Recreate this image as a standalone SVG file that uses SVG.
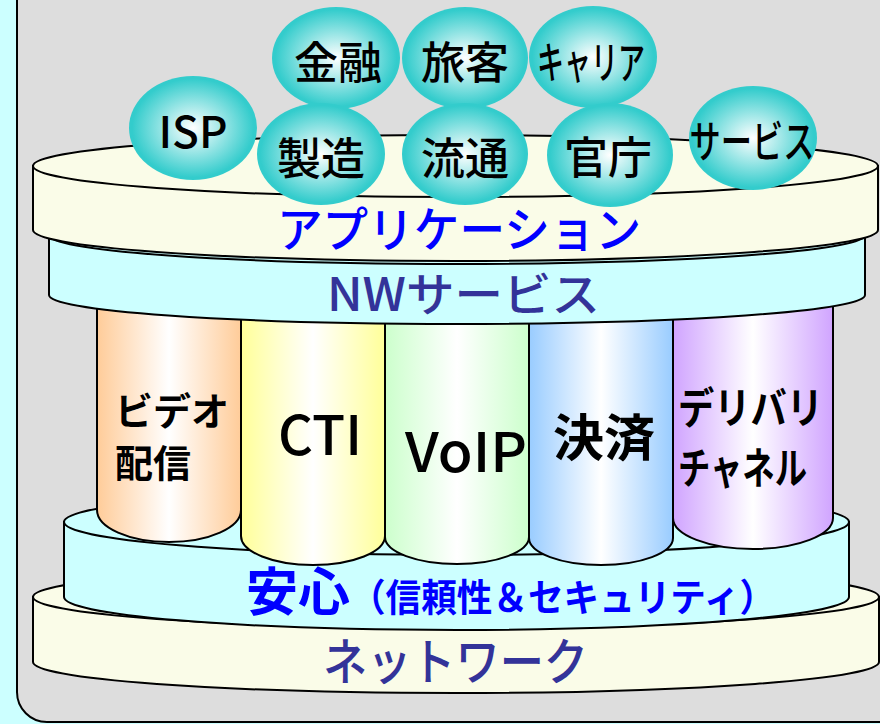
<svg xmlns="http://www.w3.org/2000/svg" width="880" height="724" viewBox="0 0 880 724">
<style>
.ln{stroke:#000;stroke-width:2}
.cream{fill:#fafce8}
.cyan{fill:#ccffff}
.t{font-family:"Noto Sans CJK JP","Liberation Sans",sans-serif}
.lab{font-size:44px;fill:#000;text-anchor:middle;font-weight:500}
.col{font-size:38px;font-weight:bold;fill:#000}
.bub{fill:url(#gTeal)}
</style>
<defs>
<radialGradient id="gTeal" cx="50%" cy="50%" r="50%">
<stop offset="0" stop-color="#ffffff"/>
<stop offset="0.95" stop-color="#33cccc"/>
</radialGradient>
<linearGradient id="gOr" x1="0" x2="1" y1="0" y2="0"><stop offset="0" stop-color="#ffcc99"/><stop offset="0.5" stop-color="#ffffff"/><stop offset="1" stop-color="#ffcc99"/></linearGradient>
<linearGradient id="gYe" x1="0" x2="1" y1="0" y2="0"><stop offset="0" stop-color="#ffff99"/><stop offset="0.5" stop-color="#ffffff"/><stop offset="1" stop-color="#ffff99"/></linearGradient>
<linearGradient id="gGr" x1="0" x2="1" y1="0" y2="0"><stop offset="0" stop-color="#ccffcc"/><stop offset="0.5" stop-color="#ffffff"/><stop offset="1" stop-color="#ccffcc"/></linearGradient>
<linearGradient id="gBl" x1="0" x2="1" y1="0" y2="0"><stop offset="0" stop-color="#99ccff"/><stop offset="0.5" stop-color="#ffffff"/><stop offset="1" stop-color="#99ccff"/></linearGradient>
<linearGradient id="gPu" x1="0" x2="1" y1="0" y2="0"><stop offset="0" stop-color="#d0a4ff"/><stop offset="0.5" stop-color="#ffffff"/><stop offset="1" stop-color="#d0a4ff"/></linearGradient>
</defs>
<rect width="880" height="724" fill="#ccffff"/>
<rect x="17" y="-60" width="900" height="782" rx="30" fill="#dddddd" stroke="#000" stroke-width="2"/>

<g id="network">
<path class="cream ln" d="M33,597 V662 A423,31 0 0 0 879,662 V597 Z"/>
<ellipse class="cream ln" cx="456" cy="597" rx="423" ry="31"/>
<text class="t" x="323" y="680" font-size="50" font-weight="500" fill="#333399" textLength="265" lengthAdjust="spacingAndGlyphs">ネットワーク</text>
</g>

<g id="anshin">
<path class="cyan ln" d="M64,522 V597 A392.5,33 0 0 0 849,597 V522 Z"/>
<ellipse class="cyan ln" cx="456.5" cy="522" rx="392.5" ry="33"/>
<text class="t" x="246" y="611" font-weight="bold" fill="#0000ff"><tspan font-size="52">安心</tspan><tspan font-size="38" textLength="425" lengthAdjust="spacingAndGlyphs">（信頼性＆セキュリティ）</tspan></text>
</g>

<g id="video">
<path class="ln" fill="url(#gOr)" d="M97,290 V510 A72,32 0 0 0 241,510 V290 Z"/>
<text class="t col" x="115" y="425">ビデオ<tspan x="115" dy="52">配信</tspan></text>
</g>
<g id="cti">
<path class="ln" fill="url(#gYe)" d="M241,290 V536 A72,29 0 0 0 385,536 V290 Z"/>
<text class="t" x="278" y="455" font-size="54" font-weight="500" fill="#000" textLength="84" lengthAdjust="spacingAndGlyphs">CTI</text>
</g>
<g id="voip">
<path class="ln" fill="url(#gGr)" d="M385,290 V537 A72,27 0 0 0 529,537 V290 Z"/>
<text class="t" x="405" y="472" font-size="54" font-weight="500" fill="#000" textLength="122" lengthAdjust="spacingAndGlyphs">VoIP</text>
</g>
<g id="kessai">
<path class="ln" fill="url(#gBl)" d="M529,290 V538 A72,27 0 0 0 673,538 V290 Z"/>
<text class="t" x="553" y="456" font-size="50" font-weight="bold" fill="#000" textLength="102" lengthAdjust="spacingAndGlyphs">決済</text>
</g>
<g id="delivery">
<path class="ln" fill="url(#gPu)" d="M673,290 V518 A80,31 0 0 0 833,518 V290 Z"/>
<text class="t" x="678" y="424" font-size="43" font-weight="bold" fill="#000"><tspan textLength="145" lengthAdjust="spacingAndGlyphs">デリバリ</tspan><tspan x="678" dy="60" textLength="129" lengthAdjust="spacingAndGlyphs">チャネル</tspan></text>
</g>

<g id="nwservice">
<path class="cyan ln" d="M49,235 V295 A408,29 0 0 0 865,295 V235 Z"/>
<ellipse class="cyan ln" cx="457" cy="235" rx="408" ry="29"/>
<text class="t" x="327" y="311" font-size="46" font-weight="500" fill="#333399" textLength="273" lengthAdjust="spacingAndGlyphs">NWサービス</text>
</g>

<g id="application">
<path class="cream ln" d="M33,166 V230 A422.5,31 0 0 0 878,230 V166 Z"/>
<ellipse class="cream ln" cx="455.5" cy="166" rx="422.5" ry="31"/>
<text class="t" x="277" y="247" font-size="48" font-weight="500" fill="#0000ff" textLength="364" lengthAdjust="spacingAndGlyphs">アプリケーション</text>
</g>

<g id="isp"><ellipse class="bub" cx="193" cy="128" rx="64" ry="52"/><text class="t lab" x="193" y="148" textLength="69" lengthAdjust="spacingAndGlyphs">ISP</text></g>
<g id="kinyu"><ellipse class="bub" cx="336" cy="58" rx="64" ry="51"/><text class="t lab" x="338" y="79">金融</text></g>
<g id="ryokaku"><ellipse class="bub" cx="465" cy="58" rx="63" ry="51"/><text class="t lab" x="465" y="79">旅客</text></g>
<g id="carrier"><ellipse class="bub" cx="593" cy="57" rx="64" ry="51"/><text class="t lab" x="591" y="79" textLength="108" lengthAdjust="spacingAndGlyphs">キャリア</text></g>
<g id="seizo"><ellipse class="bub" cx="321" cy="154" rx="64" ry="51"/><text class="t lab" x="321" y="175">製造</text></g>
<g id="ryutsu"><ellipse class="bub" cx="465" cy="154" rx="63" ry="51"/><text class="t lab" x="465" y="175">流通</text></g>
<g id="kancho"><ellipse class="bub" cx="610" cy="155" rx="63" ry="52"/><text class="t lab" x="608" y="174">官庁</text></g>
<g id="service"><ellipse class="bub" cx="753" cy="138" rx="64" ry="52"/><text class="t lab" x="752" y="158" textLength="125" lengthAdjust="spacingAndGlyphs">サービス</text></g>
</svg>
